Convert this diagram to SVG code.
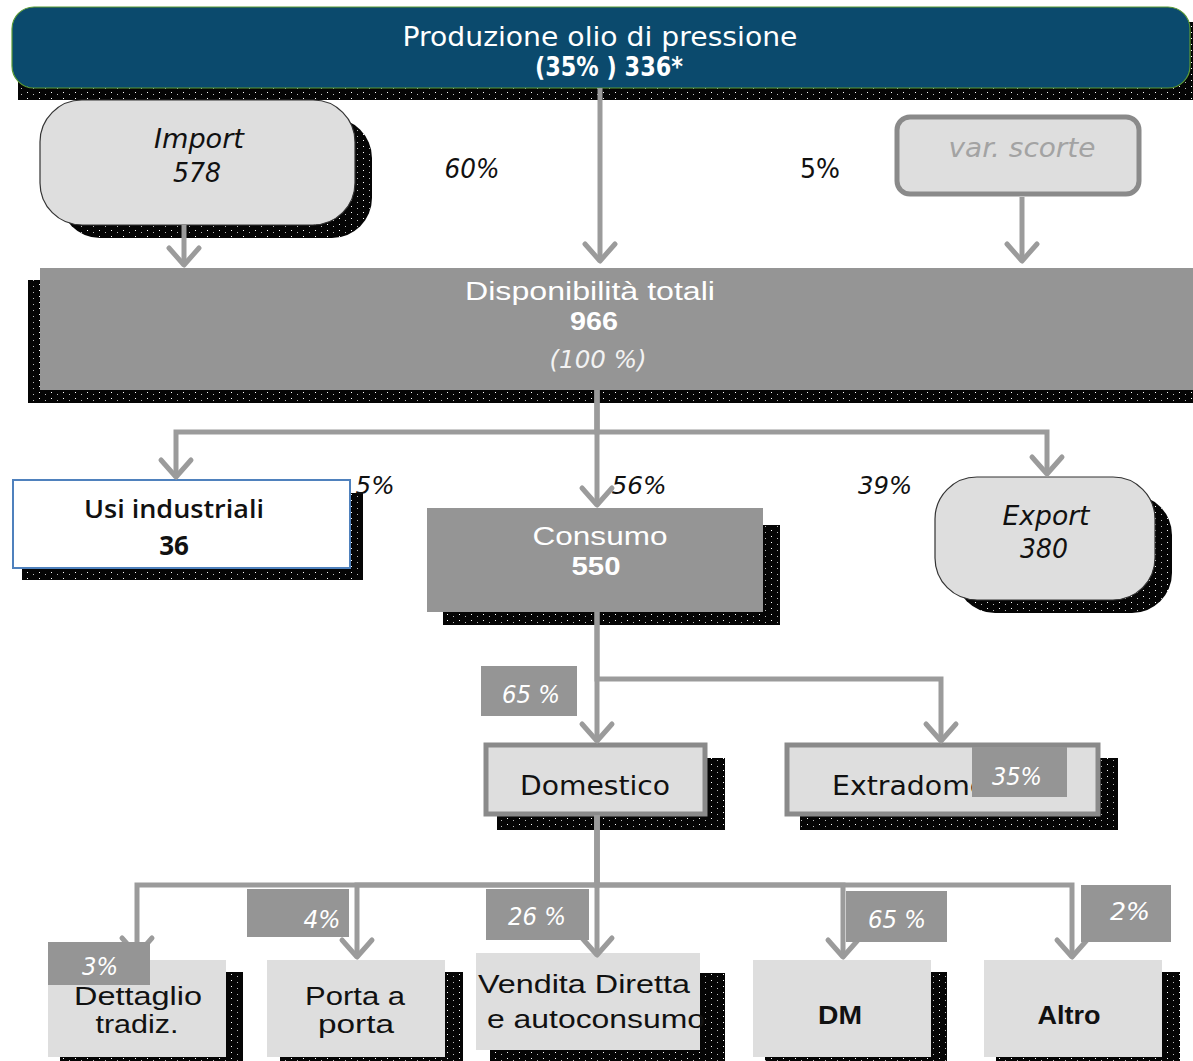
<svg xmlns="http://www.w3.org/2000/svg" width="1193" height="1061" viewBox="0 0 1193 1061">
<defs>
<pattern id="dither" width="12" height="6" patternUnits="userSpaceOnUse">
<rect width="12" height="6" fill="#050505"/>
<rect x="3" y="2" width="1" height="1" fill="#ffffff"/>
<rect x="9" y="4" width="1" height="1" fill="#bbbbbb"/>
</pattern>
<marker id="chev" viewBox="-22 -20 26 40" refX="0" refY="0" markerWidth="26" markerHeight="40" markerUnits="userSpaceOnUse" orient="auto">
<path d="M-17,-15 L0,0 L-17,15" fill="none" stroke="#9b9b9b" stroke-width="5" stroke-linecap="round" stroke-linejoin="round"/>
</marker>
<style>
.sh{fill:url(#dither)}
.conn{fill:none;stroke:#9b9b9b;stroke-width:5;marker-end:url(#chev)}
.light{fill:#dedede}
.round{fill:#dedede;stroke:#333;stroke-width:1.2}
.gbox{fill:#959595}
.obox{fill:#dedede;stroke:#8a8a8a;stroke-width:5}
.lab{fill:#959595}
.cg{font-family:"DejaVu Sans","Liberation Sans",sans-serif}
.ar{font-family:"Liberation Sans",Arial,sans-serif}
.t26{font-size:26px}
.t25{font-size:25px}
.t24{font-size:24px}
.it{font-style:italic}
.w{fill:#ffffff}
.k{fill:#111111}
</style>
</defs>

<g id="shadows">
<rect class="sh" x="18" y="22" width="1175" height="78"/>
<rect class="sh" x="60" y="118" width="312" height="120" rx="40"/>
<rect class="sh" x="28" y="280" width="1165" height="123"/>
<rect class="sh" x="22" y="493" width="341" height="87"/>
<rect class="sh" x="443" y="525" width="337" height="100"/>
<rect class="sh" x="955" y="495" width="217" height="118" rx="40"/>
<rect class="sh" x="497" y="758" width="228" height="72"/>
<rect class="sh" x="800" y="758" width="318" height="72"/>
<rect class="sh" x="60" y="972" width="183" height="89"/>
<rect class="sh" x="280" y="972" width="183" height="89"/>
<rect class="sh" x="490" y="973" width="235" height="88"/>
<rect class="sh" x="765" y="972" width="182" height="89"/>
<rect class="sh" x="996" y="972" width="184" height="89"/>
</g>

<g id="produzione">
<rect x="12" y="7" width="1178" height="81" rx="22" fill="#0b4a6d" stroke="#5b9a35" stroke-width="1.2"/>
<text class="cg w" x="600" y="46" text-anchor="middle" font-size="26" textLength="395" lengthAdjust="spacingAndGlyphs">Produzione olio di pressione</text>
<text class="cg w" x="609" y="76" text-anchor="middle" font-size="26" font-weight="bold" textLength="148" lengthAdjust="spacingAndGlyphs">(35% ) 336*</text>
</g>

<g id="import">
<rect class="round" x="40" y="100" width="315" height="125" rx="42"/>
<text class="cg k it t26" x="199" y="148" text-anchor="middle" textLength="90" lengthAdjust="spacingAndGlyphs">Import</text>
<text class="cg k it t26" x="197" y="182" text-anchor="middle" textLength="48" lengthAdjust="spacingAndGlyphs">578</text>
</g>

<g id="varscorte">
<rect class="obox" x="897" y="117" width="242" height="77" rx="13"/>
<text class="cg it t26" x="1022" y="157" text-anchor="middle" fill="#a3a3a3" textLength="147" lengthAdjust="spacingAndGlyphs">var. scorte</text>
</g>

<g id="perc-top">
<text class="cg k it t26" x="472" y="178" text-anchor="middle" textLength="55" lengthAdjust="spacingAndGlyphs">60%</text>
<text class="cg k t26" x="820" y="178" text-anchor="middle" textLength="40" lengthAdjust="spacingAndGlyphs">5%</text>
</g>

<g id="disponibilita">
<rect class="gbox" x="40" y="268" width="1153" height="122"/>
<text class="ar w t25" x="590" y="300" text-anchor="middle" textLength="250" lengthAdjust="spacingAndGlyphs">Disponibilità totali</text>
<text class="ar w t25" x="594" y="330" text-anchor="middle" font-weight="bold" textLength="48" lengthAdjust="spacingAndGlyphs">966</text>
<text class="cg it t24" x="598" y="368" text-anchor="middle" fill="#f2f2f2" textLength="97" lengthAdjust="spacingAndGlyphs">(100 %)</text>
</g>

<g id="usi">
<rect x="13" y="480" width="337" height="88" fill="#ffffff" stroke="#4f81bd" stroke-width="2"/>
<text x="174" y="518" text-anchor="middle" font-family="'Open Sans','Liberation Sans',sans-serif" font-size="26" font-weight="600" fill="#111" textLength="180" lengthAdjust="spacingAndGlyphs">Usi industriali</text>
<text x="174" y="555" text-anchor="middle" font-family="'Open Sans','Liberation Sans',sans-serif" font-size="26" font-weight="bold" fill="#111">36</text>
</g>

<g id="consumo">
<rect class="gbox" x="427" y="508" width="336" height="104"/>
<text class="ar w t26" x="600" y="545" text-anchor="middle" textLength="135" lengthAdjust="spacingAndGlyphs">Consumo</text>
<text class="ar w t26" x="596" y="575" text-anchor="middle" font-weight="bold" textLength="49" lengthAdjust="spacingAndGlyphs">550</text>
</g>

<g id="export">
<rect class="round" x="935" y="477" width="220" height="123" rx="42"/>
<text class="cg k it t26" x="1046" y="525" text-anchor="middle" textLength="87" lengthAdjust="spacingAndGlyphs">Export</text>
<text class="cg k it t26" x="1044" y="558" text-anchor="middle" textLength="48" lengthAdjust="spacingAndGlyphs">380</text>
</g>

<g id="perc-mid">
<text class="cg k it t24" x="375" y="494" text-anchor="middle" textLength="39" lengthAdjust="spacingAndGlyphs">5%</text>
<text class="cg k it t24" x="639" y="494" text-anchor="middle" textLength="55" lengthAdjust="spacingAndGlyphs">56%</text>
<text class="cg k it t24" x="885" y="494" text-anchor="middle" textLength="54" lengthAdjust="spacingAndGlyphs">39%</text>
</g>

<g id="domestico">
<rect class="obox" x="486" y="745" width="219" height="69"/>
<text class="cg k t26" x="595" y="795" text-anchor="middle" textLength="150" lengthAdjust="spacingAndGlyphs">Domestico</text>
</g>

<g id="extradomestico">
<rect class="obox" x="787" y="745" width="311" height="69"/>
<text class="cg k t26" x="832" y="795" textLength="222" lengthAdjust="spacingAndGlyphs">Extradomestico</text>
</g>

<g id="dettaglio">
<rect class="light" x="48" y="960" width="178" height="97"/>
<text class="ar k t25" x="138" y="1005" text-anchor="middle" textLength="128" lengthAdjust="spacingAndGlyphs">Dettaglio</text>
<text class="ar k t25" x="137" y="1033" text-anchor="middle" textLength="83" lengthAdjust="spacingAndGlyphs">tradiz.</text>
</g>

<g id="porta">
<rect class="light" x="267" y="960" width="178" height="97"/>
<text class="ar k t25" x="355" y="1005" text-anchor="middle" textLength="100" lengthAdjust="spacingAndGlyphs">Porta a</text>
<text class="ar k t25" x="356" y="1033" text-anchor="middle" textLength="76" lengthAdjust="spacingAndGlyphs">porta</text>
</g>

<g id="vendita">
<rect class="light" x="476" y="953" width="224" height="97"/>
<text class="ar k t26" x="478" y="993" textLength="212" lengthAdjust="spacingAndGlyphs">Vendita Diretta</text>
<text class="ar k t26" x="487" y="1028" textLength="218" lengthAdjust="spacingAndGlyphs">e autoconsumo</text>
</g>

<g id="dm">
<rect class="light" x="753" y="960" width="178" height="97"/>
<text class="ar k t26" x="840" y="1024" text-anchor="middle" font-weight="bold" textLength="44" lengthAdjust="spacingAndGlyphs">DM</text>
</g>

<g id="altro">
<rect class="light" x="984" y="960" width="178" height="97"/>
<text class="ar k t26" x="1069" y="1024" text-anchor="middle" font-weight="bold" textLength="63" lengthAdjust="spacingAndGlyphs">Altro</text>
</g>

<g id="connectors">
<path class="conn" d="M600,88 V261"/>
<path class="conn" d="M184,225 V265"/>
<path class="conn" d="M1022,197 V261"/>
<path class="conn" d="M597,390 V505"/>
<path class="conn" d="M597,390 V432 H176 V477"/>
<path class="conn" d="M597,390 V432 H1047 V474"/>
<path class="conn" d="M597,612 V741"/>
<path class="conn" d="M597,612 V679 H941 V741"/>
<path class="conn" d="M597,815 V955"/>
<path class="conn" d="M597,815 V885 H137 V955"/>
<path class="conn" d="M597,815 V885 H357 V957"/>
<path class="conn" d="M597,815 V885 H843 V957"/>
<path class="conn" d="M597,815 V885 H1072 V957"/>
</g>

<g id="labels">
<rect class="lab" x="481" y="666" width="96" height="50"/>
<text class="cg w it t24" x="531" y="703" text-anchor="middle" textLength="58" lengthAdjust="spacingAndGlyphs">65 %</text>
<rect class="lab" x="972" y="747" width="95" height="50"/>
<text class="cg w it t24" x="1017" y="785" text-anchor="middle" textLength="50" lengthAdjust="spacingAndGlyphs">35%</text>
<rect class="lab" x="48" y="942" width="102" height="43"/>
<text class="cg w it t24" x="100" y="975" text-anchor="middle" textLength="36" lengthAdjust="spacingAndGlyphs">3%</text>
<rect class="lab" x="247" y="889" width="102" height="48"/>
<text class="cg w it t24" x="322" y="928" text-anchor="middle" textLength="37" lengthAdjust="spacingAndGlyphs">4%</text>
<rect class="lab" x="486" y="889" width="103" height="51"/>
<text class="cg w it t24" x="537" y="925" text-anchor="middle" textLength="58" lengthAdjust="spacingAndGlyphs">26 %</text>
<rect class="lab" x="846" y="891" width="101" height="51"/>
<text class="cg w it t24" x="897" y="928" text-anchor="middle" textLength="58" lengthAdjust="spacingAndGlyphs">65 %</text>
<rect class="lab" x="1081" y="885" width="90" height="57"/>
<text class="cg w it t24" x="1130" y="920" text-anchor="middle" textLength="40" lengthAdjust="spacingAndGlyphs">2%</text>
</g>
</svg>
